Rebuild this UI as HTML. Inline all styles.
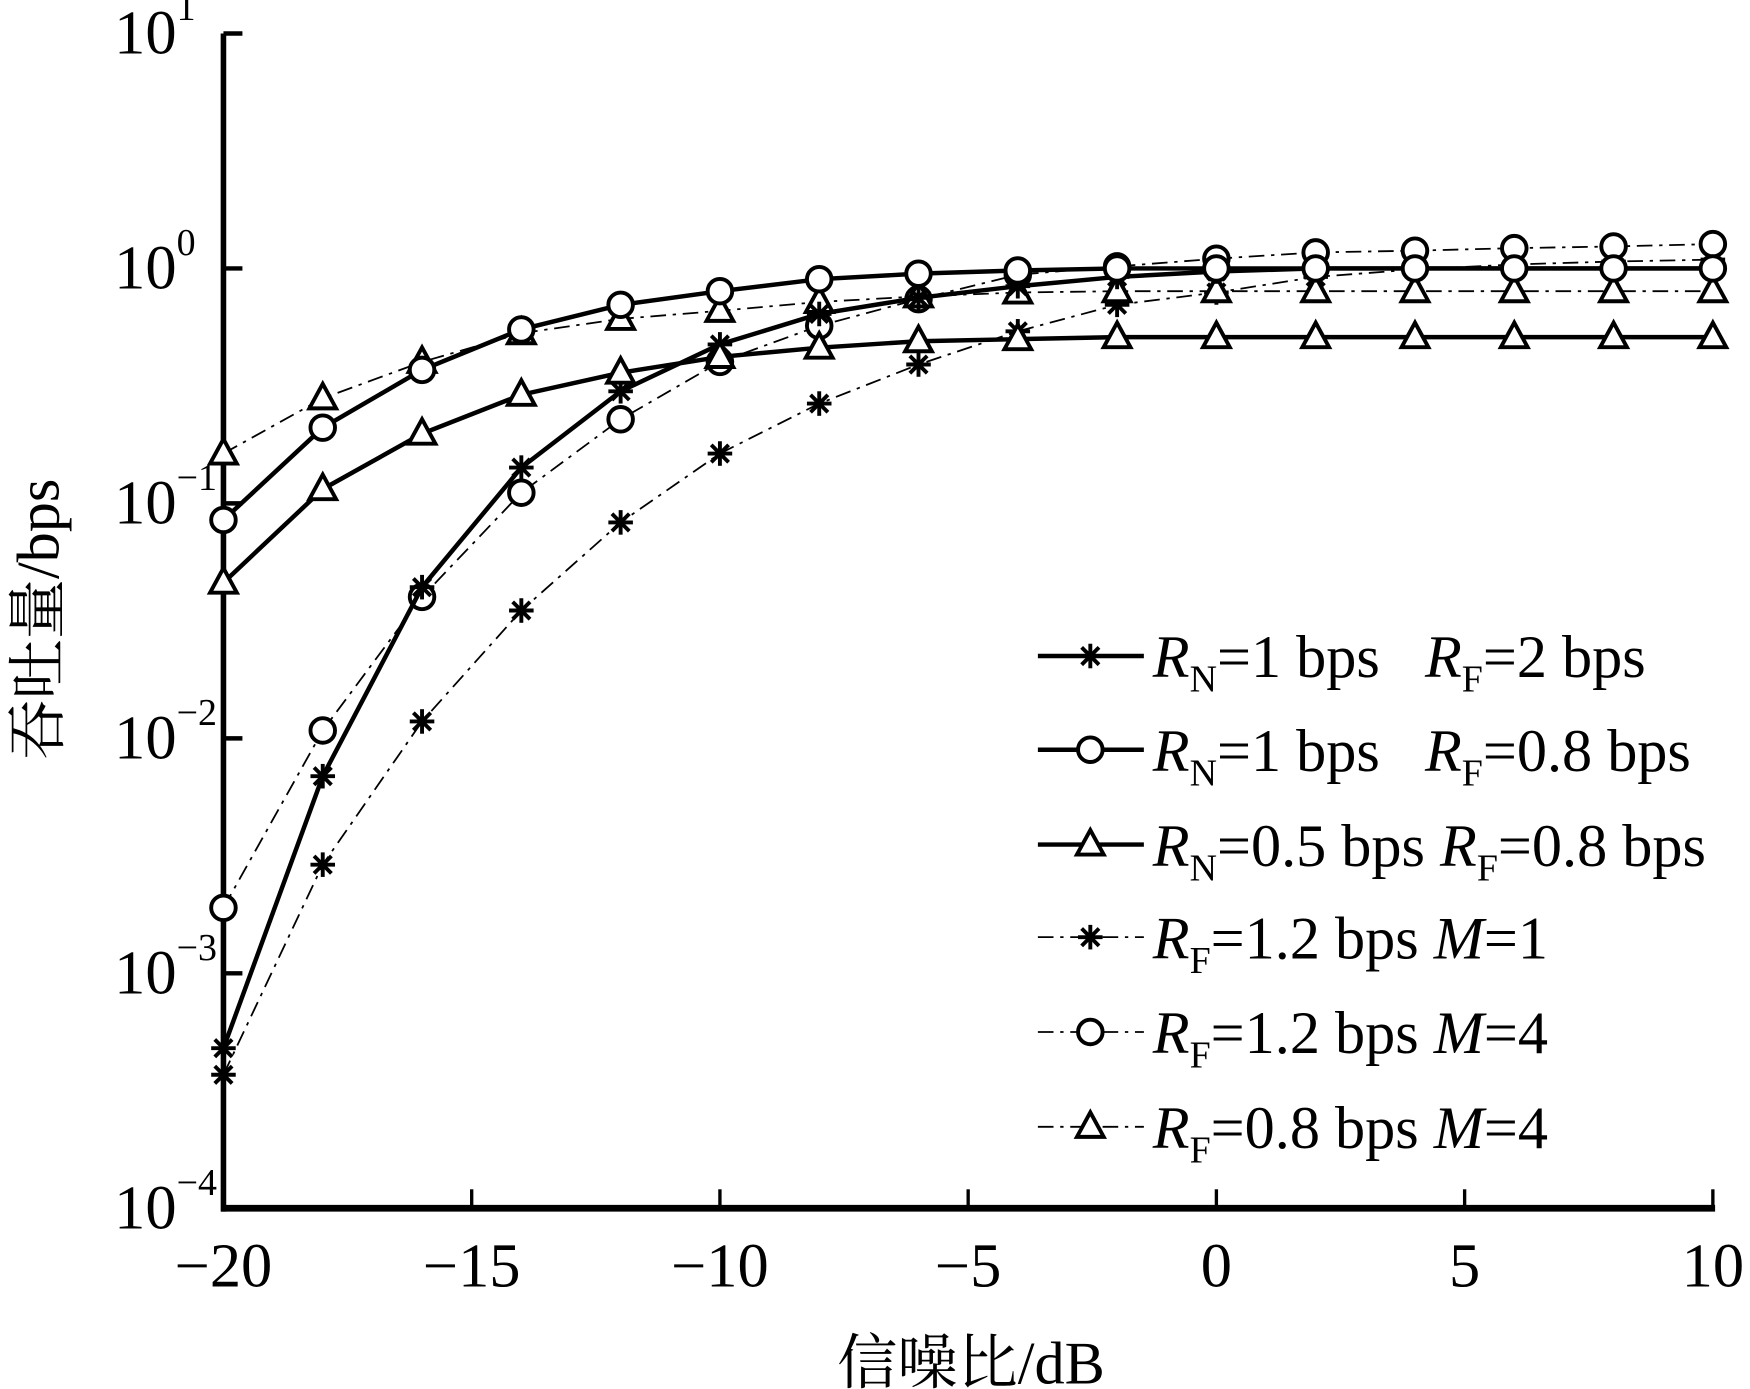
<!DOCTYPE html>
<html><head><meta charset="utf-8"><style>
html,body{margin:0;padding:0;background:#fff;}
svg{display:block;}
text{font-family:"Liberation Serif","Noto Serif CJK SC","Noto Sans CJK SC",serif;fill:#000;}
</style></head><body>
<svg id="chart" width="1750" height="1389" viewBox="0 0 1568 1245" xmlns="http://www.w3.org/2000/svg">
<g id="axes"></g>
<g id="series"></g>
<g id="legend"></g>
<text x="0" y="0" font-size="54" text-anchor="middle" transform="translate(52,555) rotate(-90)">吞吐量/bps</text>
<text x="870" y="1240" font-size="54" text-anchor="middle">信噪比/dB</text>
</svg>
<script>
const snr = [-20,-18,-16,-14,-12,-10,-8,-6,-4,-2,0,2,4,6,8,10];
const s1 = [4.8e-4,0.0069,0.044,0.142,0.30,0.475,0.64,0.75,0.84,0.92,0.97,1.0,1.0,1.0,1.0,1.0];
const s2 = [0.085,0.21,0.37,0.55,0.70,0.80,0.90,0.95,0.98,1.0,1.0,1.0,1.0,1.0,1.0,1.0];
const s3 = [0.046,0.115,0.198,0.29,0.36,0.42,0.46,0.49,0.50,0.51,0.51,0.51,0.51,0.51,0.51,0.51];
const s4 = [3.7e-4,0.0029,0.0118,0.035,0.083,0.163,0.266,0.39,0.54,0.70,0.79,0.92,0.99,1.04,1.07,1.09];
const s5 = [0.0019,0.0108,0.04,0.111,0.228,0.40,0.57,0.74,0.94,1.02,1.10,1.17,1.19,1.22,1.24,1.27];
const s6 = [0.163,0.28,0.40,0.53,0.61,0.66,0.72,0.76,0.79,0.80,0.80,0.80,0.80,0.80,0.80,0.80];
const xTicks = [-20,-15,-10,-5,0,5,10];
const yExps = [1,0,-1,-2,-3,-4];

const NS="http://www.w3.org/2000/svg";
const X0=200,X1=1535,Y0=30,Y1=1083;
function xs(v){return X0+(v+20)/30*(X1-X0);}
function ys(v){return Y1-(Math.log10(v)+4)/5*(Y1-Y0);}
function mk(tag,attrs,parent){const e=document.createElementNS(NS,tag);for(const k in attrs)e.setAttribute(k,attrs[k]);parent.appendChild(e);return e;}
const axes=document.getElementById('axes');
let l=mk('line',{x1:X0,y1:Y0,x2:X0,y2:Y1+3,stroke:'#000','stroke-width':5},axes);


l=mk('line',{x1:X0-2,y1:Y1,x2:X1+2,y2:Y1,stroke:'#000','stroke-width':6},axes);


xTicks.forEach(t=>{
  const tk=mk('line',{x1:xs(t),y1:Y1,x2:xs(t),y2:Y1-17,stroke:'#000','stroke-width':3},axes);
  
  
  const tx=mk('text',{x:xs(t),y:1153,'font-size':56,'text-anchor':'middle'},axes);
  tx.textContent=(t<0?'\u2212':'')+Math.abs(t);
  
  
});
yExps.forEach(e=>{
  const y=ys(Math.pow(10,e));
  const tk=mk('line',{x1:X0,y1:y,x2:X0+17,y2:y,stroke:'#000','stroke-width':4},axes);
  
  
  const tx=mk('text',{x:102,y:y+18,'font-size':56},axes);
  
  
  tx.appendChild(document.createTextNode('10'));
  const sp=mk('tspan',{dy:-30,'font-size':34},tx);
  sp.textContent=(e<0?'\u2212':'')+Math.abs(e);
});
function marker(g,type,x,y){
  if(type==='star'){
    const r=11;
    for(let a=0;a<4;a++){const ang=a*Math.PI/4;
      mk('line',{x1:x-r*Math.cos(ang),y1:y-r*Math.sin(ang),x2:x+r*Math.cos(ang),y2:y+r*Math.sin(ang),stroke:'#000','stroke-width':3.5},g);}
  }else if(type==='circle'){
    mk('circle',{cx:x,cy:y,r:11,fill:'#fff',stroke:'#000','stroke-width':3.5},g);
  }else{
    mk('polygon',{points:`${x},${y-13} ${x-12},${y+9} ${x+12},${y+9}`,fill:'#fff',stroke:'#000','stroke-width':3.5},g);
  }
}
const defs=[
 {d:s1,m:'star',solid:true,name:'series-rn1-rf2'},
 {d:s2,m:'circle',solid:true,name:'series-rn1-rf08'},
 {d:s3,m:'tri',solid:true,name:'series-rn05-rf08'},
 {d:s4,m:'star',solid:false,name:'series-rf12-m1'},
 {d:s5,m:'circle',solid:false,name:'series-rf12-m4'},
 {d:s6,m:'tri',solid:false,name:'series-rf08-m4'}];
const sg=document.getElementById('series');
const order=[3,4,5,0,1,2];
order.forEach(i=>{
  const s=defs[i];
  const g=mk('g',{},sg);
  
  
  const pts=snr.map((x,j)=>xs(x)+','+ys(s.d[j])).join(' ');
  const pl=mk('polyline',{points:pts,fill:'none',stroke:'#000','stroke-width':s.solid?4:1.6},g);
  if(!s.solid)pl.setAttribute('stroke-dasharray','14 6 3 6');
  
  
  snr.forEach((x,j)=>marker(g,s.m,xs(x),ys(s.d[j])));
});
const lg=document.getElementById('legend');
const labels=[
 ['R','N','=1 bps   ','R','F','=2 bps',''],
 ['R','N','=1 bps   ','R','F','=0.8 bps',''],
 ['R','N','=0.5 bps ','R','F','=0.8 bps',''],
 ['R','F','=1.2 bps ','M','','=1',''],
 ['R','F','=1.2 bps ','M','','=4',''],
 ['R','F','=0.8 bps ','M','','=4','']];
const rowsY=[588,672,757,840,925,1010];
labels.forEach((lb,i)=>{
  const s=defs[i],y=rowsY[i];
  const g=mk('g',{},lg);
  
  
  const ln=mk('line',{x1:930,y1:y,x2:1025,y2:y,stroke:'#000','stroke-width':s.solid?4:1.6},g);
  if(!s.solid)ln.setAttribute('stroke-dasharray','14 6 3 6');
  marker(g,s.m,977,y);
  const t=mk('text',{x:1033,y:y+19,'font-size':54},g);
  t.setAttribute('style','white-space:pre');
  const a=mk('tspan',{'font-style':'italic'},t);a.textContent=lb[0];
  const b=mk('tspan',{dy:13,'font-size':34},t);b.textContent=lb[1];
  const c=mk('tspan',{dy:-13},t);c.textContent=lb[2];
  const d=mk('tspan',{'font-style':'italic'},t);d.textContent=lb[3];
  if(lb[4]){const e=mk('tspan',{dy:13,'font-size':34},t);e.textContent=lb[4];
    const f=mk('tspan',{dy:-13},t);f.textContent=lb[5];}
  else{const f=mk('tspan',{},t);f.textContent=lb[5];}
});
</script>
</body></html>
